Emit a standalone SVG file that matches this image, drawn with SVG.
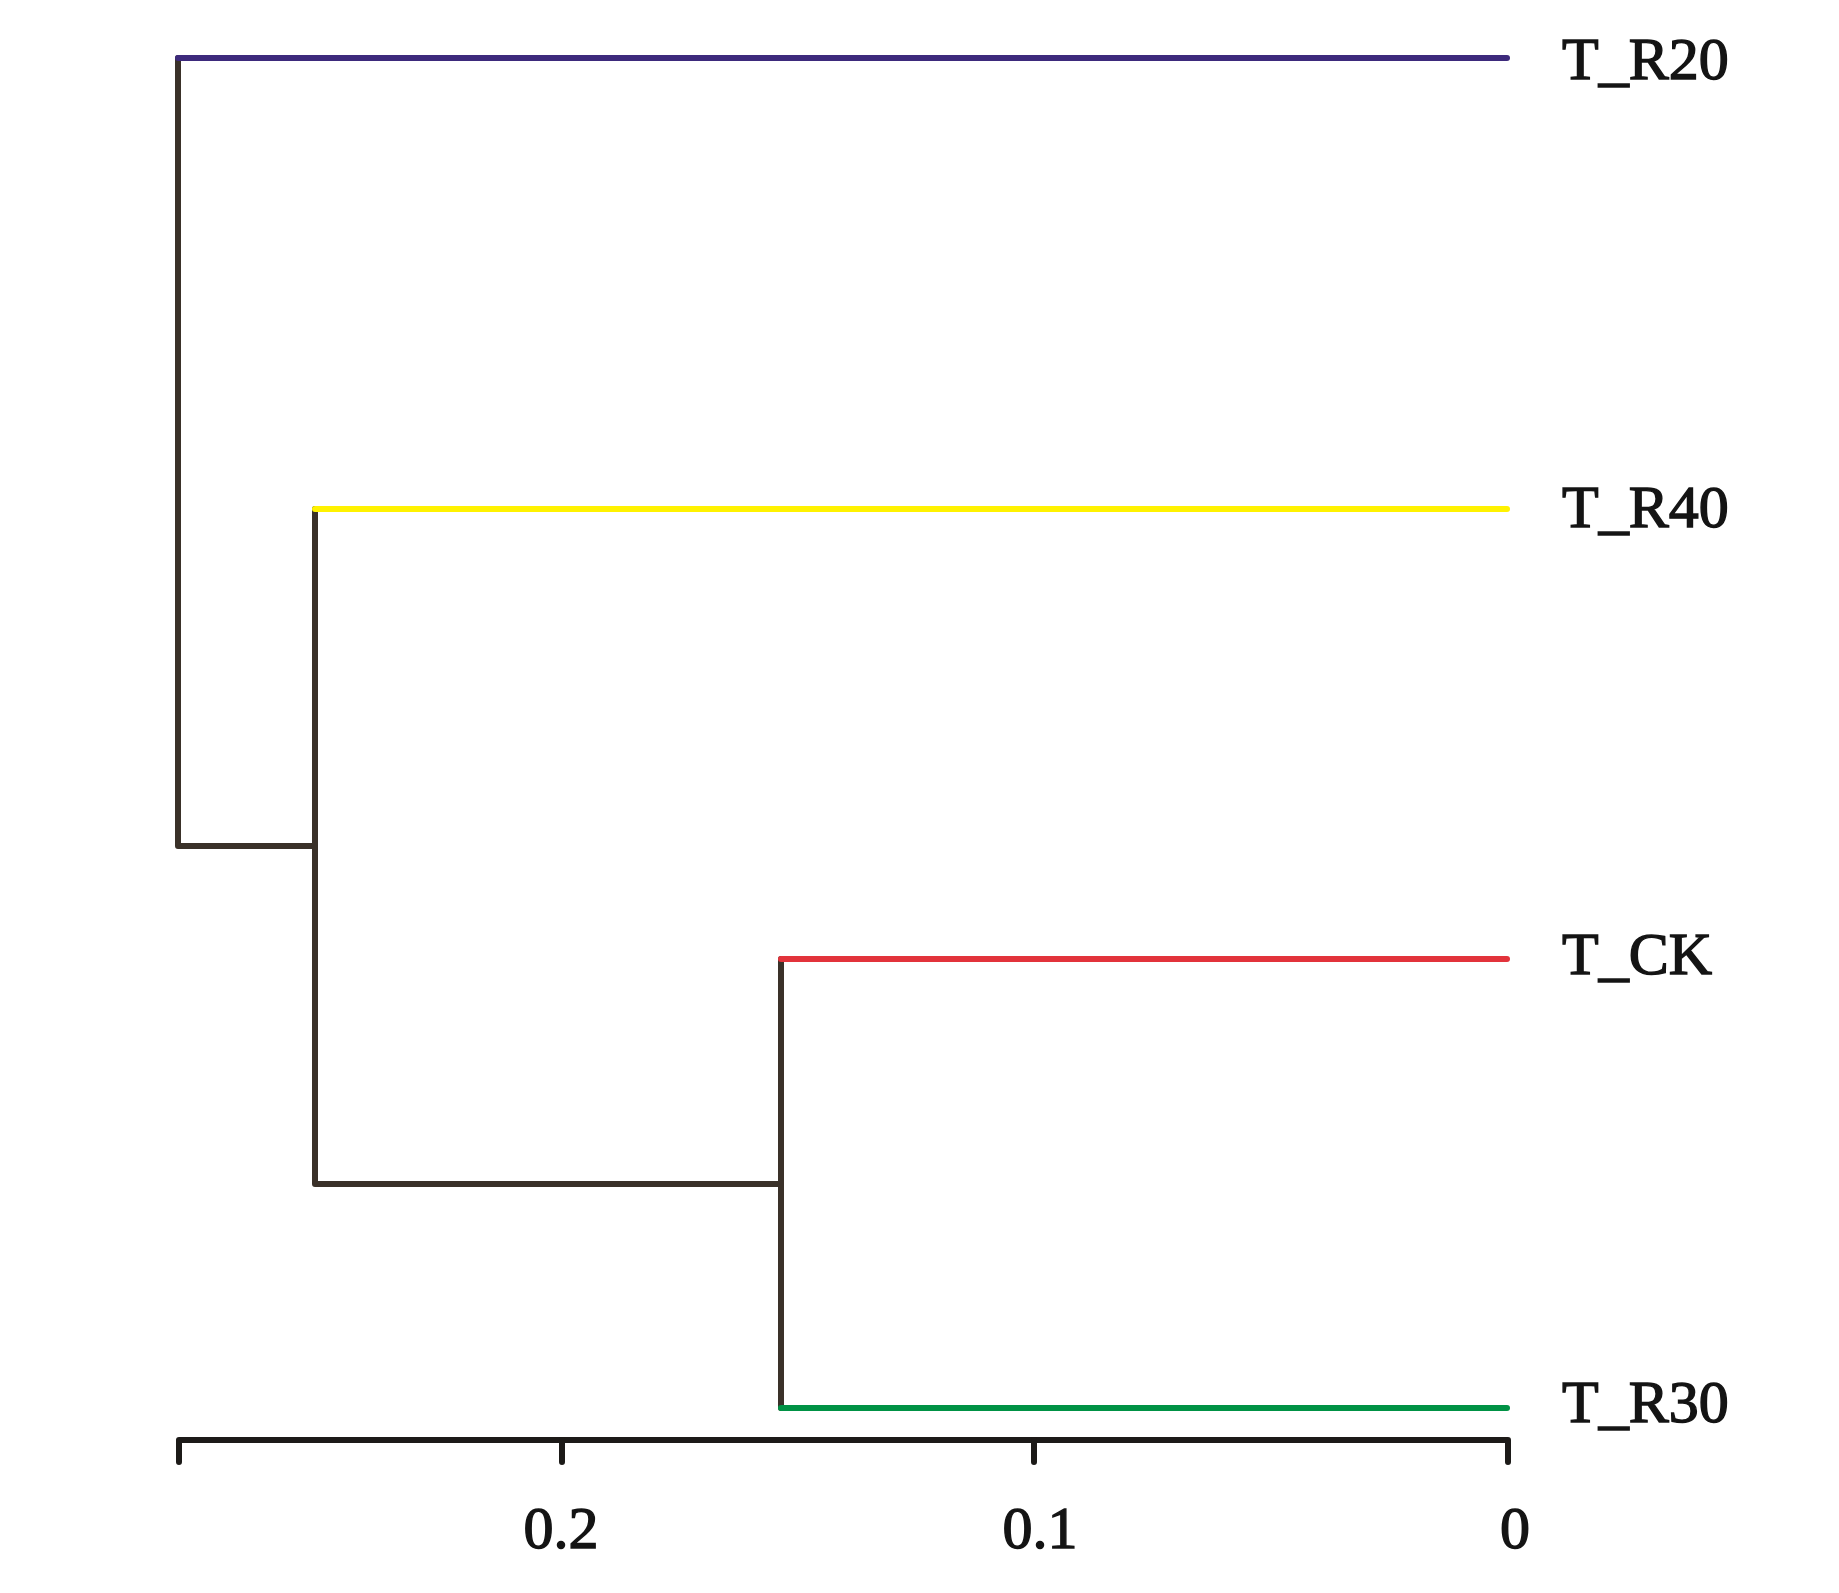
<svg xmlns="http://www.w3.org/2000/svg" width="1839" height="1593" viewBox="0 0 1839 1593">
<style>
.ln{fill:none;stroke-width:6;stroke-linecap:round;stroke-linejoin:round}
.br{stroke:#3a3129}
.ax{stroke:#1c1a18}
.lbl{font-family:"Liberation Serif","Times New Roman",serif;font-size:60px;fill:#141414;stroke:#141414;stroke-width:1.4}
</style>
<rect width="1839" height="1593" fill="#ffffff"/>
<g id="connectors">
<path class="ln br" d="M178,58 V846 H315"/>
<path class="ln br" d="M315,509 V1184 H781"/>
<path class="ln br" d="M781,959 V1408"/>
</g>
<g id="T_R20"><path class="ln" stroke="#3d2a7c" d="M178,58 H1507"/><text class="lbl" x="1562" y="79">T_R20</text></g>
<g id="T_R40"><path class="ln" stroke="#fff200" d="M315,509 H1507"/><text class="lbl" x="1562" y="527">T_R40</text></g>
<g id="T_CK"><path class="ln" stroke="#e2333b" d="M781,959 H1507"/><text class="lbl" x="1562" y="974">T_CK</text></g>
<g id="T_R30"><path class="ln" stroke="#009245" d="M781,1408 H1507"/><text class="lbl" x="1562" y="1422">T_R30</text></g>
<g id="axis">
<path class="ln ax" d="M179,1462 V1440 H1508 V1462"/>
<path class="ln ax" d="M562,1440 V1462 M1034,1440 V1462"/>
<text class="lbl" x="561" y="1548" text-anchor="middle">0.2</text>
<text class="lbl" x="1040" y="1548" text-anchor="middle">0.1</text>
<text class="lbl" x="1515" y="1548" text-anchor="middle">0</text>
</g>
</svg>
